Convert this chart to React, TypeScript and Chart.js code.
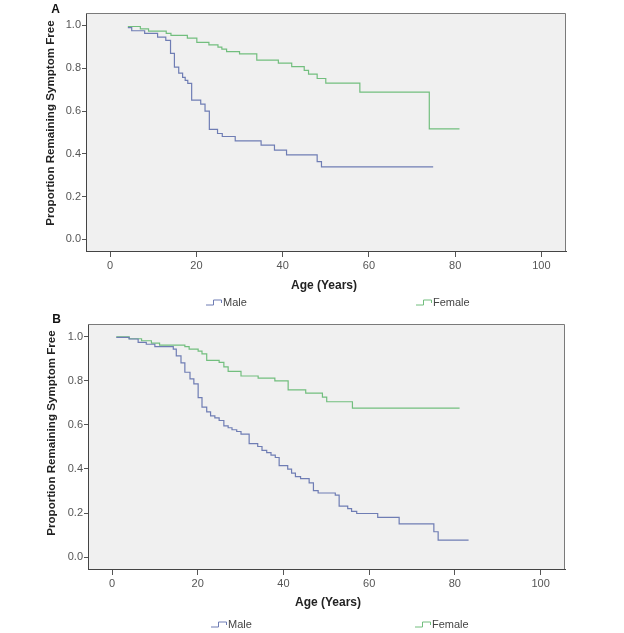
import React, { useEffect, useRef } from "react";
import { Chart, registerables } from "chart.js";

Chart.register(...registerables);

// ---------- data ----------
const SERIES_NAMES = ["Male", "Female"];
const X_TICKS = [0, 20, 40, 60, 80, 100];
const Y_TICKS = [0, 0.2, 0.4, 0.6, 0.8, 1.0];
const X_TITLE = "Age (Years)";
const Y_TITLE = "Proportion Remaining Symptom Free";
const PANEL_LABELS = ["A", "B"];

// Panel A
const maleA_age = [4.1, 5.0, 8.0, 11.0, 12.9, 14.0, 14.9, 15.9, 16.8, 17.4, 18.0, 18.9, 21.0, 22.0, 23.0, 24.9, 26.0, 29.0, 35.0, 38.1, 40.9, 48.0, 49.0, 74.9];
const maleA_surv = [0.99, 0.975, 0.963, 0.945, 0.93, 0.869, 0.805, 0.777, 0.757, 0.743, 0.729, 0.651, 0.632, 0.6, 0.514, 0.495, 0.481, 0.461, 0.441, 0.417, 0.395, 0.364, 0.339, 0.339];
const femaleA_age = [4.1, 7.0, 8.9, 13.0, 14.1, 17.9, 20.1, 22.9, 25.0, 25.9, 27.0, 30.0, 34.0, 39.0, 42.1, 45.0, 46.0, 48.0, 50.0, 57.9, 74.0, 81.0];
const femaleA_surv = [0.995, 0.984, 0.973, 0.963, 0.953, 0.941, 0.921, 0.909, 0.899, 0.889, 0.878, 0.867, 0.838, 0.824, 0.807, 0.79, 0.772, 0.752, 0.73, 0.688, 0.517, 0.517];

// Panel B
const maleB_age = [1.0, 4.0, 6.1, 8.0, 10.0, 14.3, 15.0, 16.1, 17.0, 18.2, 19.1, 20.1, 21.0, 22.1, 23.0, 24.0, 25.0, 26.1, 27.1, 28.0, 29.1, 30.1, 32.0, 34.0, 35.0, 36.1, 37.1, 38.1, 39.0, 41.0, 41.9, 42.8, 44.0, 46.0, 47.0, 48.1, 52.1, 53.0, 55.0, 55.9, 57.1, 62.0, 67.0, 75.1, 76.1, 83.2];
const maleB_surv = [0.997, 0.99, 0.975, 0.966, 0.955, 0.944, 0.913, 0.882, 0.839, 0.809, 0.786, 0.724, 0.681, 0.659, 0.641, 0.632, 0.62, 0.596, 0.587, 0.578, 0.57, 0.558, 0.515, 0.502, 0.484, 0.474, 0.463, 0.452, 0.415, 0.399, 0.381, 0.365, 0.356, 0.337, 0.302, 0.291, 0.281, 0.231, 0.22, 0.208, 0.198, 0.18, 0.151, 0.115, 0.077, 0.077];
const femaleB_age = [1.0, 4.0, 6.9, 9.2, 11.1, 17.0, 18.0, 20.1, 21.0, 22.1, 25.0, 26.1, 27.1, 30.1, 34.1, 38.0, 41.1, 45.2, 49.1, 50.1, 56.1, 81.1];
const femaleB_surv = [1.0, 0.991, 0.982, 0.971, 0.962, 0.955, 0.944, 0.935, 0.922, 0.893, 0.884, 0.863, 0.843, 0.822, 0.812, 0.8, 0.759, 0.744, 0.726, 0.705, 0.676, 0.676];

// ---------- styles ----------
const COLORS = ["#6f7db4", "#72be7e"];
const FONT = "'Liberation Sans', Arial, sans-serif";

const PANELS = [
  {
    label: PANEL_LABELS[0],
    series: [
      [maleA_age, maleA_surv],
      [femaleA_age, femaleA_surv],
    ],
    top: 0,
    h: 312,
    padTop: 13,
    padRight: 58,
    yAxisW: 86,
    xAxisH: 61,
    letter: [55.5, 10],
    yTitle: [51, 123],
    xTitle: [324, 285.5],
    legendY: 303,
    legendX: [206, 416],
  },
  {
    label: PANEL_LABELS[1],
    series: [
      [maleB_age, maleB_surv],
      [femaleB_age, femaleB_surv],
    ],
    top: 312,
    h: 321,
    padTop: 12,
    padRight: 59,
    yAxisW: 88,
    xAxisH: 64,
    letter: [56.5, 8],
    yTitle: [52, 121],
    xTitle: [328, 290.5],
    legendY: 313,
    legendX: [211, 415],
  },
];

function makeDecor(p: any) {
  return {
    id: "decor" + p.label,
    beforeDraw(chart: any) {
      const { ctx, chartArea: a } = chart;
      ctx.save();
      ctx.fillStyle = "#f0f0f0";
      ctx.fillRect(a.left, a.top, a.right - a.left, a.bottom - a.top);
      ctx.restore();
    },
    afterDraw(chart: any) {
      const { ctx, chartArea: a } = chart;
      ctx.save();
      // top and right frame
      ctx.strokeStyle = "#7a7a7a";
      ctx.lineWidth = 1;
      ctx.beginPath();
      ctx.moveTo(a.left, Math.round(a.top) + 0.5);
      ctx.lineTo(Math.round(a.right) - 0.5, Math.round(a.top) + 0.5);
      ctx.lineTo(Math.round(a.right) - 0.5, a.bottom);
      ctx.stroke();

      // panel letter
      ctx.fillStyle = "#111";
      ctx.font = `bold 12px ${FONT}`;
      ctx.textAlign = "center";
      ctx.textBaseline = "middle";
      ctx.fillText(p.label, p.letter[0], p.letter[1]);

      // x title
      ctx.fillStyle = "#222";
      ctx.font = `bold 12px ${FONT}`;
      ctx.fillText(X_TITLE, p.xTitle[0], p.xTitle[1]);

      // y title
      ctx.save();
      ctx.translate(p.yTitle[0], p.yTitle[1]);
      ctx.rotate(-Math.PI / 2);
      ctx.font = `bold 11.6px ${FONT}`;
      ctx.fillText(Y_TITLE, 0, 0);
      ctx.restore();

      // legend
      ctx.font = `11px ${FONT}`;
      ctx.textAlign = "left";
      SERIES_NAMES.forEach((name, i) => {
        const x0 = p.legendX[i];
        const yb = p.legendY + 1.5;
        ctx.strokeStyle = COLORS[i];
        ctx.lineWidth = 1;
        ctx.beginPath();
        ctx.moveTo(x0, yb + 0.5);
        ctx.lineTo(x0 + 7.5, yb + 0.5);
        ctx.lineTo(x0 + 7.5, yb - 4.5);
        ctx.lineTo(x0 + 15.5, yb - 4.5);
        ctx.lineTo(x0 + 15.5, yb - 1.5);
        ctx.stroke();
        ctx.fillStyle = "#444";
        ctx.fillText(name, x0 + 17, p.legendY);
      });
      ctx.restore();
    },
  };
}

function Panel({ p }: { p: any }) {
  const ref = useRef<HTMLCanvasElement | null>(null);
  useEffect(() => {
    const canvas = ref.current!;
    const chart = new Chart(canvas, {
      type: "line",
      data: {
        datasets: p.series.map((s: any, i: number) => ({
          label: SERIES_NAMES[i],
          data: s[0].map((x: number, k: number) => ({ x, y: s[1][k] })),
          borderColor: COLORS[i],
          backgroundColor: COLORS[i],
          borderWidth: 1.2,
          pointRadius: 0,
          stepped: "before",
          fill: false,
        })),
      },
      options: {
        animation: false,
        responsive: false,
        devicePixelRatio: 1,
        events: [],
        layout: {
          autoPadding: false,
          padding: { left: 0, top: p.padTop, right: p.padRight, bottom: 0 },
        },
        plugins: {
          legend: { display: false },
          title: { display: false },
          tooltip: { enabled: false },
        },
        scales: {
          x: {
            type: "linear",
            min: -5.6,
            max: 105.7,
            afterBuildTicks: (s: any) => {
              s.ticks = X_TICKS.map((v) => ({ value: v }));
            },
            afterFit: (s: any) => {
              s.height = p.xAxisH;
            },
            ticks: {
              autoSkip: false,
              maxRotation: 0,
              padding: 2,
              color: "#555",
              font: { family: FONT, size: 11 },
              callback: (v: any) => String(v),
            },
            grid: {
              display: true,
              drawOnChartArea: false,
              drawTicks: true,
              tickLength: 6,
              color: "#555",
            },
            border: { display: true, color: "#444", width: 1 },
          },
          y: {
            type: "linear",
            min: -0.054,
            max: 1.058,
            afterBuildTicks: (s: any) => {
              s.ticks = Y_TICKS.map((v) => ({ value: v }));
            },
            afterFit: (s: any) => {
              s.width = p.yAxisW;
            },
            ticks: {
              autoSkip: false,
              padding: 1,
              color: "#555",
              font: { family: FONT, size: 11 },
              callback: (v: any) => Number(v).toFixed(1),
            },
            grid: {
              display: true,
              drawOnChartArea: false,
              drawTicks: true,
              tickLength: 4,
              color: "#555",
            },
            border: { display: true, color: "#444", width: 1 },
          },
        },
      },
      plugins: [makeDecor(p)],
    } as any);
    return () => chart.destroy();
  }, []);
  return (
    <canvas
      ref={ref}
      width={624}
      height={p.h}
      style={{ position: "absolute", left: 0, top: p.top, width: 624, height: p.h, display: "block" }}
    />
  );
}

export default function App() {
  return (
    <div style={{ position: "absolute", left: 0, top: 0, width: 624, height: 633, background: "#fff", overflow: "hidden" }}>
      {PANELS.map((p) => (
        <Panel key={p.label} p={p} />
      ))}
    </div>
  );
}
